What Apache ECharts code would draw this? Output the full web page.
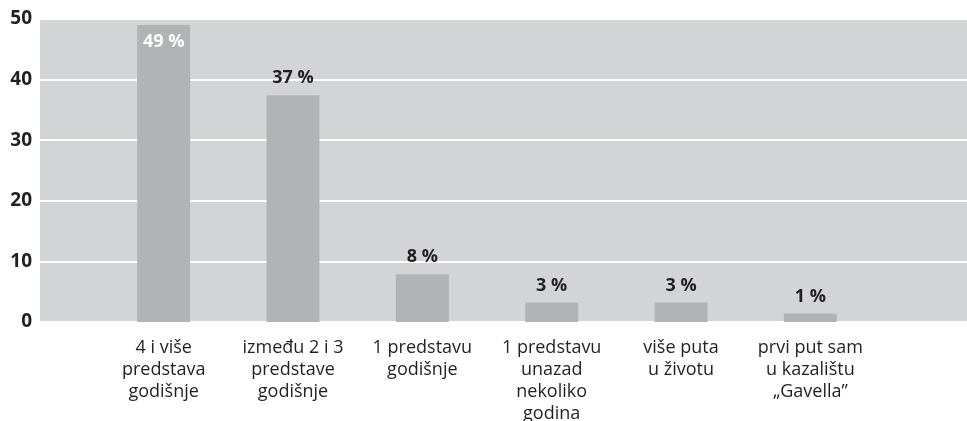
<!DOCTYPE html>
<html>
<head>
<meta charset="utf-8">
<script src="https://cdn.jsdelivr.net/npm/echarts@6/dist/echarts.min.js"></script>
<style>
html, body { margin: 0; padding: 0; background: #ffffff; }
#chart { width: 967px; height: 421px; }
</style>
</head>
<body>
<div id="chart"></div>
<script>
var categories = [
    '4 i više\npredstava\ngodišnje',
    'između 2 i 3\npredstave\ngodišnje',
    '1 predstavu\ngodišnje',
    '1 predstavu\nunazad\nnekoliko\ngodina',
    'više puta\nu životu',
    'prvi put sam\nu kazalištu\n„Gavella”'
];
var values = [49, 37.4, 7.9, 3.2, 3.2, 1.4];
var valueLabels = ['49 %', '37 %', '8 %', '3 %', '3 %', '1 %'];

var dom = document.getElementById('chart');
var myChart = echarts.init(dom);

var font = '"Open Sans", sans-serif';

option = {
    backgroundColor: '#ffffff',
    animation: false,
    grid: [
        {left: 40, right: 0, top: 19, bottom: 99, show: true, backgroundColor: '#d3d4d6', borderWidth: 0, outerBoundsMode: 'none'},
        {left: 99, width: 776, top: 19, bottom: 99, outerBoundsMode: 'none'}
    ],
    xAxis: [
        {gridIndex: 0, type: 'category', data: categories, show: false},
        {
            gridIndex: 1,
            type: 'category',
            data: categories,
            axisLine: {show: false},
            axisTick: {show: false},
            axisLabel: {
                interval: 0,
                margin: 15,
                fontFamily: font,
                fontSize: 18,
                lineHeight: 22,
                color: '#231f20'
            }
        }
    ],
    yAxis: [
        {
            gridIndex: 0,
            type: 'value',
            min: 0,
            max: 50,
            interval: 10,
            axisLine: {show: false},
            axisTick: {show: false},
            splitLine: {lineStyle: {color: '#ffffff', width: 2, cap: 'round'}},
            axisLabel: {
                margin: 8,
                fontFamily: font,
                fontSize: 19,
                fontWeight: 'bold',
                color: '#231f20'
            }
        },
        {gridIndex: 1, type: 'value', min: 0, max: 50, show: false}
    ],
    series: [
        {
            type: 'bar',
            xAxisIndex: 1,
            yAxisIndex: 1,
            barWidth: 53,
            itemStyle: {color: '#b2b3b5'},
            label: {
                show: true,
                position: 'top',
                distance: 8,
                fontFamily: font,
                fontSize: 18,
                fontWeight: 'bold',
                color: '#231f20',
                formatter: function (p) { return valueLabels[p.dataIndex]; }
            },
            data: values.map(function (v, i) {
                if (i === 0) {
                    return {value: v, label: {position: 'insideTop', distance: 8, color: '#ffffff'}};
                }
                return v;
            })
        }
    ]
};

if (option && typeof option === "object") {
    myChart.setOption(option, true);
}
</script>
</body>
</html>
